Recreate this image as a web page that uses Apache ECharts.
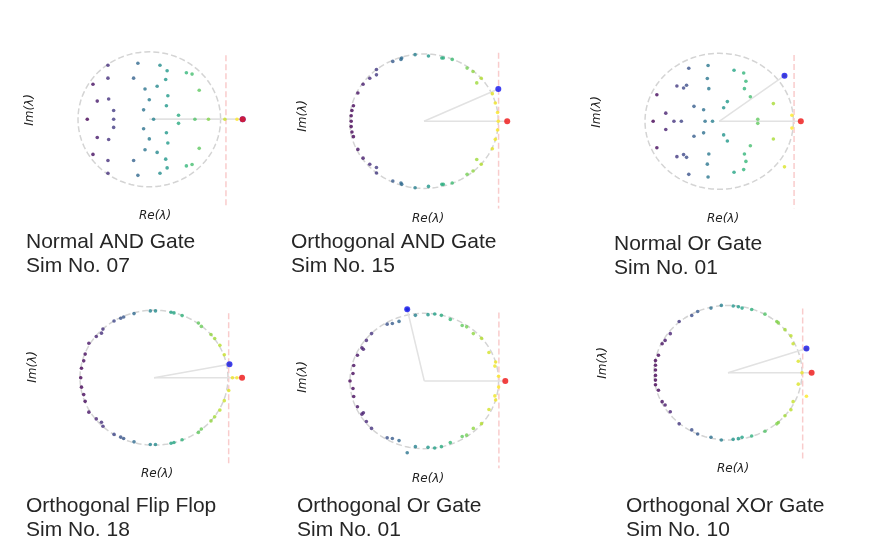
<!DOCTYPE html>
<html><head><meta charset="utf-8">
<script src="https://cdn.jsdelivr.net/npm/echarts@6/dist/echarts.min.js"></script>
<style>html,body{margin:0;padding:0;background:#fff}#chart{width:883px;height:537px}</style>
</head><body><div id="chart"></div>
<script>
// ---------- DATA (eigenvalues, normalised so the dashed reference circle has radius 1) ----------
const panelTitles = [
  'Normal AND Gate\nSim No. 07',
  'Orthogonal AND Gate\nSim No. 15',
  'Normal Or Gate\nSim No. 01',
  'Orthogonal Flip Flop\nSim No. 18',
  'Orthogonal Or Gate\nSim No. 01',
  'Orthogonal XOr Gate\nSim No. 10'
];
const axisNameRe = 'Re(λ)';
const axisNameIm = 'Im(λ)';

const eigNormalAnd07 = [
  [-0.58,0.80],[-0.58,0.61],[-0.79,0.52],[-0.73,0.27],[-0.57,0.30],[-0.50,0.13],[-0.87,0],[-0.50,0],
  [-0.50,-0.12],[-0.73,-0.27],[-0.57,-0.30],[-0.79,-0.52],[-0.58,-0.61],[-0.58,-0.80],
  [-0.16,0.83],[-0.22,0.61],[-0.06,0.45],[0.00,0.29],[-0.08,0.14],[0.06,0],[-0.08,-0.14],[0.00,-0.29],
  [-0.06,-0.45],[-0.22,-0.61],[-0.16,-0.83],
  [0.15,0.80],[0.25,0.72],[0.23,0.59],[0.11,0.49],[0.26,0.35],[0.24,0.20],[0.41,0.06],[0.41,-0.06],
  [0.24,-0.20],[0.26,-0.35],[0.11,-0.49],[0.23,-0.59],[0.25,-0.72],[0.15,-0.80],
  [0.52,0.69],[0.60,0.67],[0.70,0.43],[0.64,0],[0.83,0],[0.70,-0.43],[0.52,-0.69],[0.60,-0.67],
  [1.06,0],[1.23,0]
];
const eigOrthoAnd15 = [
  [-0.12,0.99],[0.06,0.97],[0.24,0.94],[0.26,0.94],[0.38,0.92],[-0.42,0.89],[-0.31,0.92],[-0.30,0.94],
  [-0.64,0.77],[-0.64,0.69],[-0.73,0.64],[-0.82,0.55],[-0.89,0.42],[-0.95,0.23],[-0.97,0.16],[-0.98,0.08],
  [-0.98,0],
  [-0.12,-0.99],[0.06,-0.97],[0.24,-0.94],[0.26,-0.94],[0.38,-0.92],[-0.42,-0.89],[-0.31,-0.92],[-0.30,-0.94],
  [-0.64,-0.77],[-0.64,-0.69],[-0.73,-0.64],[-0.82,-0.55],[-0.89,-0.42],[-0.95,-0.23],[-0.97,-0.16],[-0.98,-0.08],
  [0.58,0.79],[0.66,0.74],[0.77,0.64],[0.71,0.57],[0.92,0.41],[0.96,0.27],[0.99,0.13],
  [1.00,0],
  [0.58,-0.79],[0.66,-0.74],[0.77,-0.64],[0.71,-0.57],[0.92,-0.41],[0.96,-0.27],[0.99,-0.13]
];
const eigNormalOr01 = [
  [-0.84,0.39],[-0.72,0.12],[-0.89,0],[-0.61,0],[-0.51,0],[-0.72,-0.12],[-0.84,-0.39],
  [-0.57,0.52],[-0.48,0.49],[-0.44,0.53],[-0.57,-0.52],[-0.48,-0.49],[-0.44,-0.53],
  [-0.41,0.78],[-0.41,-0.78],[-0.15,0.82],[-0.16,0.63],[-0.14,0.48],[-0.34,0.22],[-0.21,0.17],[-0.19,0],
  [-0.09,0],[-0.34,-0.22],[-0.21,-0.17],[-0.14,-0.48],[-0.16,-0.63],[-0.15,-0.82],
  [0.20,0.75],[0.33,0.71],[0.36,0.59],[0.34,0.48],[0.42,0.36],[0.11,0.29],[0.06,0.20],[0.73,0.26],[0.52,0.03],
  [0.52,-0.03],[0.73,-0.26],[0.06,-0.20],[0.11,-0.29],[0.42,-0.36],[0.34,-0.48],[0.36,-0.59],[0.33,-0.71],[0.20,-0.75],
  [0.98,0.09],[0.98,-0.10],[0.88,-0.67],[0.88,0.67]
];
const eigOrthoFlipFlop18 = [
  [-0.05,0.99],[0.02,0.99],[-0.27,0.95],[0.23,0.97],[0.27,0.96],[0.38,0.92],[-0.41,0.90],[-0.45,0.88],
  [-0.54,0.84],[-0.69,0.72],[-0.71,0.66],[-0.78,0.61],[-0.88,0.51],[-0.93,0.35],[-0.95,0.25],[-0.98,0.14],
  [-0.99,0],
  [-0.05,-0.99],[0.02,-0.99],[-0.27,-0.95],[0.23,-0.97],[0.27,-0.96],[0.38,-0.92],[-0.41,-0.90],[-0.45,-0.88],
  [-0.54,-0.84],[-0.69,-0.72],[-0.71,-0.66],[-0.78,-0.61],[-0.88,-0.51],[-0.93,-0.35],[-0.95,-0.25],[-0.98,-0.14],
  [0.60,0.81],[0.64,0.76],[0.77,0.64],[0.82,0.58],[0.89,0.48],[0.95,0.34],[1.02,0.20],
  [0.60,-0.81],[0.64,-0.76],[0.77,-0.64],[0.82,-0.58],[0.89,-0.48],[0.95,-0.34],[1.01,-0.19],
  [1.06,0],[1.12,0]
];
const eigOrthoOr01 = [
  [-0.12,0.97],[0.05,0.98],[0.14,0.99],[0.23,0.97],[0.35,0.91],[-0.34,0.88],[-0.43,0.85],[-0.50,0.84],
  [-0.71,0.70],[-0.78,0.60],[-0.84,0.49],[-0.82,0.47],[-0.90,0.38],[-0.95,0.23],[-0.96,0.11],
  [-1.00,0],
  [-0.12,-0.97],[0.05,-0.98],[0.14,-0.99],[0.23,-0.97],[0.35,-0.91],[-0.34,-0.88],[-0.43,-0.85],[-0.50,-0.84],
  [-0.71,-0.70],[-0.78,-0.60],[-0.84,-0.49],[-0.82,-0.47],[-0.90,-0.38],[-0.95,-0.23],[-0.96,-0.11],
  [0.51,0.82],[0.57,0.80],[0.66,0.70],[0.77,0.63],[0.87,0.42],[0.96,0.28],[0.95,0.22],[1.00,0.07],
  [0.51,-0.82],[0.57,-0.80],[0.66,-0.70],[0.77,-0.63],[0.87,-0.42],[0.96,-0.28],[0.95,-0.22],[1.00,-0.09],
  [-0.23,1.06],[-0.23,-1.06]
];
const eigOrthoXor10 = [
  [-0.09,1.00],[0.07,0.99],[0.14,0.98],[0.19,0.96],[-0.23,0.96],[-0.41,0.91],[-0.49,0.85],[-0.66,0.76],
  [-0.78,0.58],[-0.85,0.48],[-0.89,0.43],[-0.94,0.26],[-0.98,0.18],[-0.98,0.11],[-0.98,0.04],
  [-0.09,-1.00],[0.07,-0.99],[0.14,-0.98],[0.19,-0.96],[-0.23,-0.96],[-0.41,-0.91],[-0.49,-0.85],[-0.66,-0.76],
  [-0.78,-0.58],[-0.85,-0.48],[-0.89,-0.43],[-0.94,-0.26],[-0.98,-0.18],[-0.98,-0.11],[-0.98,-0.04],
  [0.32,0.94],[0.50,0.87],[0.66,0.76],[0.68,0.74],[0.77,0.64],[0.85,0.55],[0.88,0.43],[0.95,0.17],
  [0.32,-0.94],[0.50,-0.87],[0.66,-0.76],[0.68,-0.74],[0.77,-0.64],[0.85,-0.55],[0.88,-0.43],[0.95,-0.17],
  [1.00,0],[1.06,0.35],[1.06,-0.35]
];
const leadingEig = [[1.31,0],[1.12,0],[1.10,0],[1.19,0],[1.09,0],[1.13,0]];      // red
const secondEig  = [[1.31,0],[1.00,0.48],[0.88,0.67],[1.02,0.20],[-0.23,1.06],[1.06,0.36]]; // blue
const thresholdRe = [1.075,1.004,1.009,1.009,1.004,1.009];
const thresholdImTop = [0.95,1.02,0.975,0.953,1.01,0.955];
const thresholdImBottom = [-1.29,-1.30,-1.28,-1.29,-1.29,-1.29];
const circleRadius = 1;

// ---------- LAYOUT / STYLE ----------
const panelEigs = [eigNormalAnd07, eigOrthoAnd15, eigNormalOr01, eigOrthoFlipFlop18, eigOrthoOr01, eigOrthoXor10];
const layout = [
  {cx:149.3, cy:119.3, rx:71.3, ry:67.5, tl:26, tt:230.5, reX:155, reY:216, imX:30, imY:110},
  {cx:424.0, cy:121.2, rx:74.3, ry:67.2, tl:291, tt:230.5, reX:428, reY:219, imX:303, imY:116},
  {cx:719.2, cy:121.3, rx:74.2, ry:68.0, tl:614, tt:232.5, reX:723, reY:219, imX:597, imY:112},
  {cx:154.0, cy:377.7, rx:74.0, ry:67.5, tl:26, tt:494.5, reX:157, reY:474, imX:33, imY:367},
  {cx:424.3, cy:381.0, rx:74.3, ry:67.7, tl:297, tt:494.5, reX:428, reY:479, imX:303, imY:377},
  {cx:728.0, cy:372.7, rx:74.0, ry:67.3, tl:626, tt:494.5, reX:733, reY:469, imX:603, imY:363}
];
const span = 1.5;
const viridis = ['#440154','#482878','#3e4989','#31688e','#26828e','#1f9e89','#35b779','#6ece58','#b5de2b','#fde725'];

const circlePts = [];
for (let i = 0; i <= 240; i++) {
  const t = i / 240 * 2 * Math.PI;
  circlePts.push([circleRadius * Math.cos(t), circleRadius * Math.sin(t)]);
}

const grid = [], xAxis = [], yAxis = [], series = [], visualMap = [], title = [], graphic = [];
layout.forEach((L, i) => {
  grid.push({left: L.cx - span * L.rx, top: L.cy - span * L.ry, width: 2 * span * L.rx, height: 2 * span * L.ry});
  xAxis.push({type:'value', gridIndex:i, min:-span, max:span, show:false});
  yAxis.push({type:'value', gridIndex:i, min:-span, max:span, show:false});
  series.push({type:'line', xAxisIndex:i, yAxisIndex:i, data:circlePts, showSymbol:false, silent:true, z:1,
    lineStyle:{color:'#d4d4d4', width:1.5, type:[6,3]}});
  series.push({type:'line', xAxisIndex:i, yAxisIndex:i, data:[[thresholdRe[i], thresholdImTop[i]],[thresholdRe[i], thresholdImBottom[i]]],
    showSymbol:false, silent:true, z:1, lineStyle:{color:'#f9cccc', width:1.5, type:[6,3]}});
  series.push({type:'line', xAxisIndex:i, yAxisIndex:i, data:[[0,0], leadingEig[i]], showSymbol:false, silent:true, z:2,
    lineStyle:{color:'#e2e2e2', width:1.5}});
  series.push({type:'line', xAxisIndex:i, yAxisIndex:i, data:[[0,0], secondEig[i]], showSymbol:false, silent:true, z:2,
    lineStyle:{color:'#e2e2e2', width:1.5}});
  const sIdx = series.length;
  series.push({type:'scatter', xAxisIndex:i, yAxisIndex:i, data:panelEigs[i], symbolSize:3.6, z:3, silent:true});
  series.push({type:'scatter', xAxisIndex:i, yAxisIndex:i, data:[secondEig[i]], symbolSize:6, z:4, silent:true,
    itemStyle:{color:'#1010ee'}});
  series.push({type:'scatter', xAxisIndex:i, yAxisIndex:i, data:[leadingEig[i]], symbolSize:6, z:5, silent:true,
    itemStyle:{color:'#ee1111'}});
  const xs = panelEigs[i].map(p => p[0]);
  visualMap.push({type:'continuous', show:false, seriesIndex:sIdx, dimension:0,
    min:Math.min(...xs), max:Math.max(...xs), inRange:{color:viridis}});
  title.push({text:panelTitles[i], left:L.tl, top:L.tt, padding:0,
    textStyle:{fontFamily:'Liberation Sans', fontSize:21, fontWeight:'normal', color:'#262626', lineHeight:23.5}});
  graphic.push({type:'text', x:L.reX, y:L.reY, silent:true,
    style:{text:axisNameRe, font:'italic 12px "DejaVu Sans"', fill:'#222', textAlign:'center', textVerticalAlign:'middle'}});
  graphic.push({type:'text', x:L.imX, y:L.imY, rotation:Math.PI/2, silent:true,
    style:{text:axisNameIm, font:'italic 12px "DejaVu Sans"', fill:'#222', textAlign:'center', textVerticalAlign:'middle'}});
});

const chart = echarts.init(document.getElementById('chart'), null, {renderer:'canvas'});
chart.setOption({animation:false, backgroundColor:'#fff', title, grid, xAxis, yAxis, series, visualMap, graphic});
</script></body></html>
